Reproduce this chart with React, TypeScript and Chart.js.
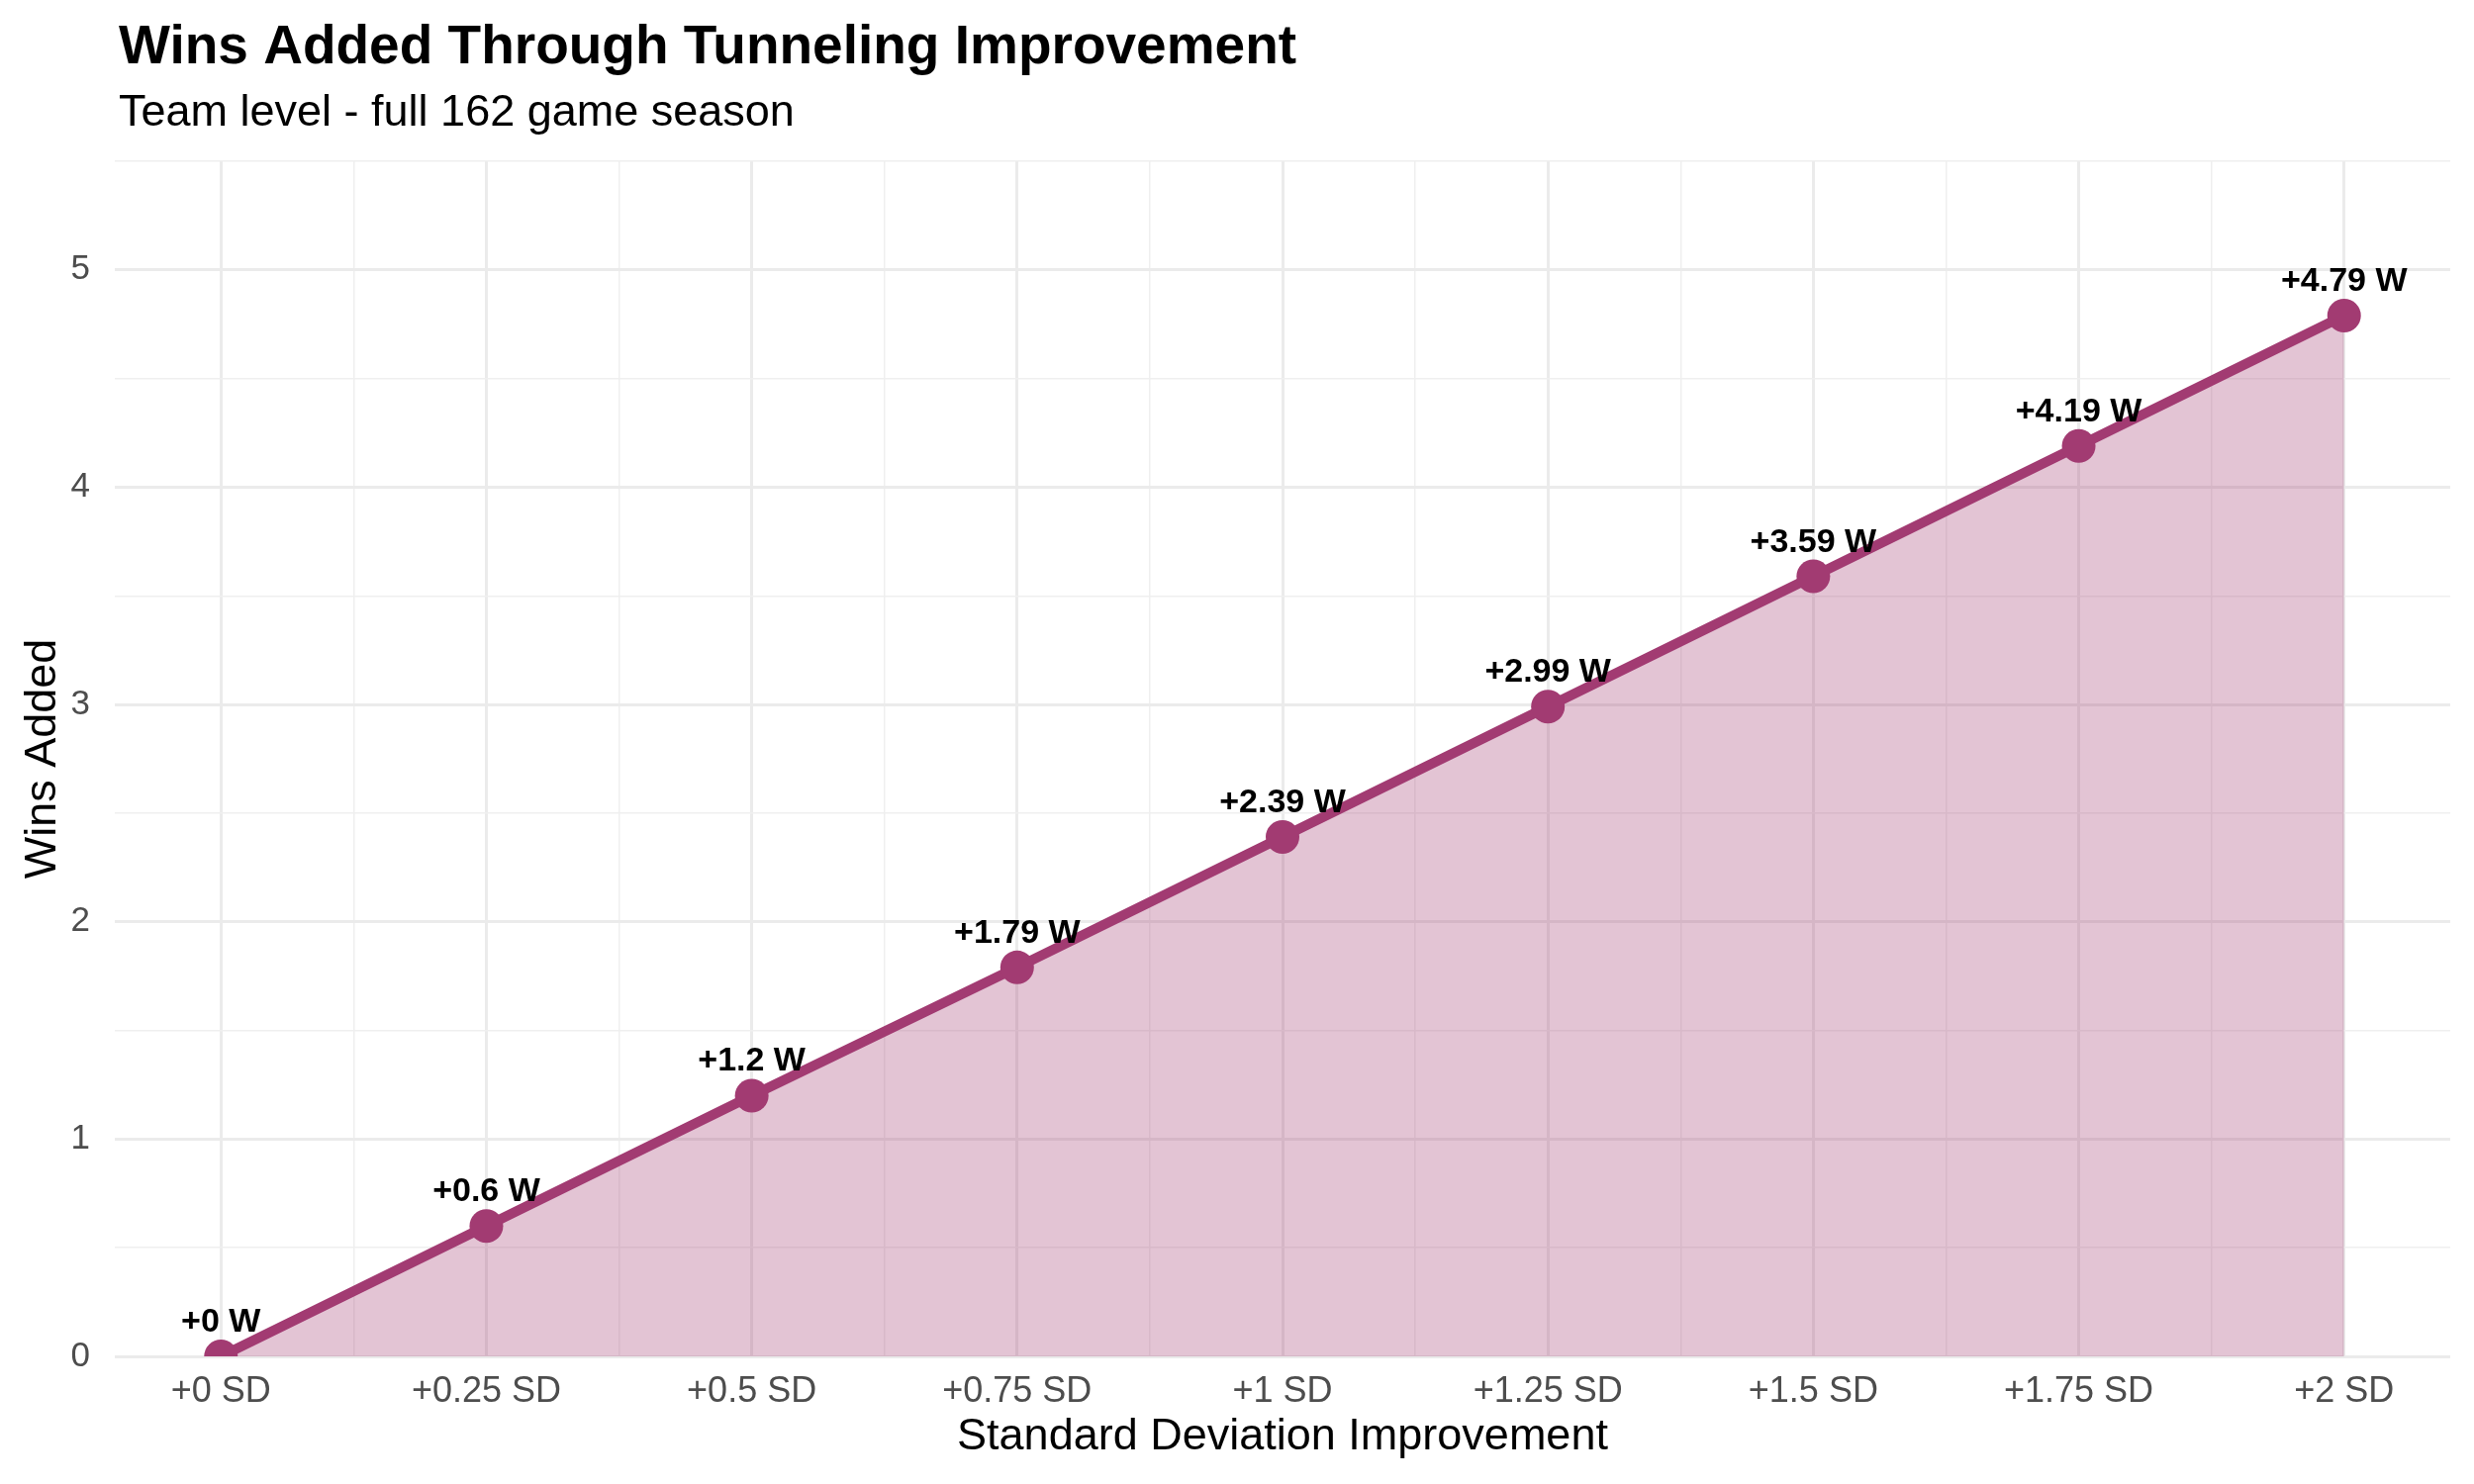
import React, { useEffect, useRef } from 'react';
import { Chart, registerables } from 'chart.js';

Chart.register(...registerables);

const FONT = "'Liberation Sans', Arial, Helvetica, sans-serif";

const TITLE = 'Wins Added Through Tunneling Improvement';
const SUBTITLE = 'Team level - full 162 game season';
const X_TITLE = 'Standard Deviation Improvement';
const Y_TITLE = 'Wins Added';

const sdSteps = [0, 0.25, 0.5, 0.75, 1, 1.25, 1.5, 1.75, 2];
const sdLabels = ['+0 SD', '+0.25 SD', '+0.5 SD', '+0.75 SD', '+1 SD', '+1.25 SD', '+1.5 SD', '+1.75 SD', '+2 SD'];
const winsAdded = [0, 0.6, 1.2, 1.79, 2.39, 2.99, 3.59, 4.19, 4.79];
const winsLabels = ['+0 W', '+0.6 W', '+1.2 W', '+1.79 W', '+2.39 W', '+2.99 W', '+3.59 W', '+4.19 W', '+4.79 W'];

const xMinorBreaks = [0.125, 0.375, 0.625, 0.875, 1.125, 1.375, 1.625, 1.875];
const yMajorBreaks = [0, 1, 2, 3, 4, 5];
const yMinorBreaks = [0.5, 1.5, 2.5, 3.5, 4.5, 5.5];
const xLimits = [-0.1, 2.1];
const yLimits = [0, 5.5];

const LINE_COLOR = '#A23B72';
const FILL_COLOR = 'rgba(162, 59, 114, 0.3)';
const MAJOR_GRID = '#ebebeb';
const MINOR_GRID = '#efefef';

const isMajorX = (v: number) => sdSteps.some((s) => Math.abs(s - v) < 1e-9);
const isMajorY = (v: number) => yMajorBreaks.some((s) => Math.abs(s - v) < 1e-9);

const titlesPlugin = {
  id: 'ggTitles',
  afterDraw(chart: any) {
    const { ctx, chartArea } = chart;
    ctx.save();
    ctx.fillStyle = '#000000';
    ctx.textAlign = 'left';
    ctx.textBaseline = 'alphabetic';
    ctx.font = `bold 55px ${FONT}`;
    ctx.fillText(TITLE, chartArea.left + 4, 64);
    ctx.font = `45px ${FONT}`;
    ctx.fillText(SUBTITLE, chartArea.left + 4, 127);
    ctx.restore();
  },
};

const pointLabelsPlugin = {
  id: 'pointLabels',
  afterDatasetsDraw(chart: any) {
    const { ctx } = chart;
    const meta = chart.getDatasetMeta(0);
    ctx.save();
    ctx.fillStyle = '#000000';
    ctx.textAlign = 'center';
    ctx.textBaseline = 'alphabetic';
    ctx.font = `bold 34px ${FONT}`;
    meta.data.forEach((pt: any, i: number) => {
      ctx.fillText(winsLabels[i], pt.x, pt.y - 25);
    });
    ctx.restore();
  },
};

export default function App() {
  const canvasRef = useRef<HTMLCanvasElement | null>(null);

  useEffect(() => {
    document.body.style.margin = '0';
    const canvas = canvasRef.current;
    if (!canvas) return;
    const chart = new Chart(canvas, {
      type: 'line',
      data: {
        datasets: [
          {
            data: sdSteps.map((x, i) => ({ x, y: winsAdded[i] })),
            borderColor: LINE_COLOR,
            borderWidth: 10,
            backgroundColor: FILL_COLOR,
            fill: 'origin',
            tension: 0,
            pointRadius: 17,
            pointHoverRadius: 17,
            pointBackgroundColor: LINE_COLOR,
            pointBorderWidth: 0,
            clip: 0,
          } as any,
        ],
      },
      options: {
        animation: false,
        responsive: true,
        maintainAspectRatio: false,
        devicePixelRatio: 1,
        layout: { padding: { top: 163, left: 0, right: 24, bottom: 0 } },
        plugins: {
          legend: { display: false },
          tooltip: { enabled: false },
          title: { display: false },
        },
        scales: {
          x: {
            type: 'linear',
            min: xLimits[0],
            max: xLimits[1],
            afterBuildTicks: (scale: any) => {
              scale.ticks = [...sdSteps, ...xMinorBreaks].sort((a, b) => a - b).map((v) => ({ value: v }));
            },
            afterFit: (scale: any) => {
              scale.height = 129;
            },
            border: { display: false },
            grid: {
              drawTicks: false,
              color: (ctx: any) => (ctx.tick && isMajorX(ctx.tick.value) ? MAJOR_GRID : MINOR_GRID),
              lineWidth: (ctx: any) => (ctx.tick && isMajorX(ctx.tick.value) ? 3 : 1.5),
            },
            ticks: {
              autoSkip: false,
              maxRotation: 0,
              minRotation: 0,
              padding: 14,
              color: '#4d4d4d',
              font: { family: FONT, size: 36 },
              callback: (v: any) => {
                const idx = sdSteps.findIndex((s) => Math.abs(s - Number(v)) < 1e-9);
                return idx >= 0 ? sdLabels[idx] : '';
              },
            },
            title: {
              display: true,
              text: X_TITLE,
              color: '#000000',
              font: { family: FONT, size: 45 },
              padding: { top: 0, bottom: 20 },
            },
          },
          y: {
            type: 'linear',
            min: yLimits[0],
            max: yLimits[1],
            afterBuildTicks: (scale: any) => {
              scale.ticks = [...yMajorBreaks, ...yMinorBreaks].sort((a, b) => a - b).map((v) => ({ value: v }));
            },
            afterFit: (scale: any) => {
              scale.width = 116;
            },
            border: { display: false },
            grid: {
              drawTicks: false,
              color: (ctx: any) => (ctx.tick && isMajorY(ctx.tick.value) ? MAJOR_GRID : MINOR_GRID),
              lineWidth: (ctx: any) => (ctx.tick && isMajorY(ctx.tick.value) ? 3 : 1.5),
            },
            ticks: {
              autoSkip: false,
              padding: 25,
              color: '#4d4d4d',
              font: { family: FONT, size: 35 },
              callback: (v: any) => (isMajorY(Number(v)) ? String(v) : ''),
            },
            title: {
              display: true,
              text: Y_TITLE,
              color: '#000000',
              font: { family: FONT, size: 45 },
              padding: { top: 17, bottom: 2 },
            },
          },
        },
      },
      plugins: [titlesPlugin, pointLabelsPlugin],
    } as any);
    return () => chart.destroy();
  }, []);

  return (
    <div style={{ position: 'absolute', left: 0, top: 0, width: '2500px', height: '1500px', background: '#ffffff' }}>
      <canvas ref={canvasRef} />
    </div>
  );
}
